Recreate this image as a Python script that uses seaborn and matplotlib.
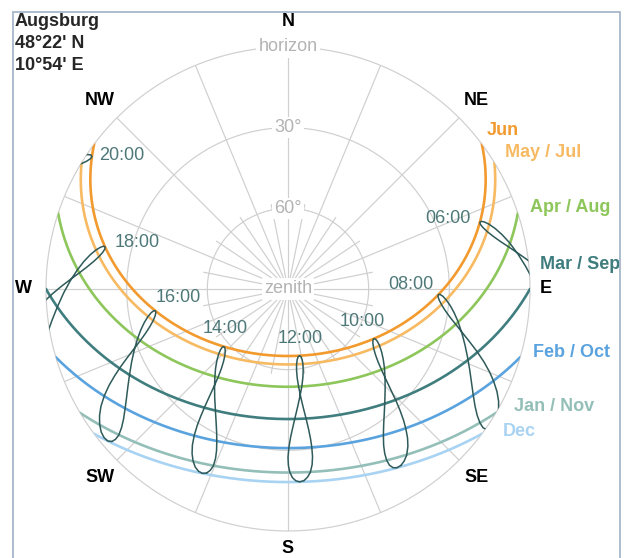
import numpy as np
import pandas as pd
import seaborn as sns
import matplotlib
matplotlib.use('Agg')
import matplotlib.pyplot as plt
from matplotlib.patches import Rectangle

# place
city = "Augsburg"
lat_text = "48°22' N"
lon_text = "10°54' E"
lat_deg = 48 + 22 / 60
lon_deg = 10 + 54 / 60
zone_lon = 15.0  # CET meridian

# monthly sun paths (21st of month)
month_names = ["Jun", "May / Jul", "Apr / Aug", "Mar / Sep", "Feb / Oct", "Jan / Nov", "Dec"]
month_decl = [23.44, 20.3, 12.0, 0.0, -10.8, -19.9, -23.44]
month_colors = ["#F29A2E", "#F7BA63", "#8DC65A", "#3F7D7E", "#5AA3DE", "#94BFB8", "#A9D3F2"]

# analemma hours (clock time)
hours = [6, 8, 10, 12, 14, 16, 18, 20]
hour_names = ["06:00", "08:00", "10:00", "12:00", "14:00", "16:00", "18:00", "20:00"]

# declination (deg) and equation of time (min) on the 1st, 11th, 21st of each month
sun_decl = [-23.0, -21.8, -20.0, -17.2, -14.3, -10.9, -7.8, -4.0, 0.0,
            4.3, 8.1, 11.8, 15.0, 17.8, 20.1, 22.0, 23.1, 23.44,
            23.1, 22.0, 20.4, 18.0, 15.3, 12.2, 8.3, 4.6, 0.8,
            -3.0, -6.8, -10.6, -14.3, -17.3, -19.8, -21.8, -23.0, -23.44]
sun_eot = [-3.3, -7.6, -11.2, -13.5, -14.2, -13.6, -12.4, -10.2, -7.4,
           -4.0, -1.2, 1.2, 2.9, 3.6, 3.4, 2.2, 0.5, -1.6,
           -3.7, -5.4, -6.3, -6.3, -5.3, -3.4, -0.1, 3.3, 6.8,
           10.1, 13.1, 15.3, 16.4, 15.9, 14.1, 11.0, 6.7, 2.0]

compass = ["N", "NE", "E", "SE", "S", "SW", "W", "NW"]

# layout (label radii and pixel offsets)
compass_r = [99.5, 99, 96, 99, 96.5, 99, 98.5, 99]
month_label_offsets = [(5, 14), (11, 10), (12, 6), (10, 24), (13, 5), (18, 6), (21, 2)]
hour_label_offsets = [(-32, 4), (-28, 10), (-12, 17), (1, 17), (1, 18), (23, 13), (32, 4), (30, 1)]


def to_sky(decl, hour_angle):
    phi = np.radians(lat_deg)
    d = np.radians(np.asarray(decl, dtype=float))
    h = np.radians(np.asarray(hour_angle, dtype=float))
    sin_alt = np.sin(phi) * np.sin(d) + np.cos(phi) * np.cos(d) * np.cos(h)
    alt = np.degrees(np.arcsin(np.clip(sin_alt, -1, 1)))
    az = np.arctan2(-np.cos(d) * np.sin(h),
                    np.sin(d) * np.cos(phi) - np.cos(d) * np.cos(h) * np.sin(phi))
    return np.mod(az, 2 * np.pi), 90 - alt


sns.set_theme(style="white")
plt.rcParams['font.family'] = ['Liberation Sans', 'DejaVu Sans']

fig = plt.figure(figsize=(6.28, 5.58), dpi=100)
fig.patch.set_facecolor('white')
ax = fig.add_axes([0.0732, 0.0484, 0.7708, 0.8674], projection='polar')
ax.set_theta_zero_location('N')
ax.set_theta_direction(-1)
ax.grid(False)
ax.spines['polar'].set_visible(False)

grid_c = "#CFCFCF"
full = np.linspace(0, 2 * np.pi, 361)
for rr in (30, 60, 90):
    ax.plot(full, np.full_like(full, rr), color=grid_c, lw=0.85, zorder=1, clip_on=False)
for a in np.arange(0, 360, 22.5):
    ax.plot([np.radians(a)] * 2, [0, 90], color=grid_c, lw=0.85, zorder=1)
for a in np.arange(11.25, 360, 22.5):
    ax.plot([np.radians(a)] * 2, [0, 32], color=grid_c, lw=0.85, zorder=1)

for txt, rr in zip(["horizon", "30°", "60°", "zenith"], [90, 60, 30, 0]):
    ax.text(0, rr, txt, ha='center', va='center', fontsize=13, color="#B3B3B3", zorder=3,
            bbox=dict(fc='white', ec='none', pad=1.5))

# month paths
rows = []
rise = []
for name, dec in zip(month_names, month_decl):
    h0 = np.degrees(np.arccos(-np.tan(np.radians(lat_deg)) * np.tan(np.radians(dec))))
    ha = np.linspace(-h0, h0, 241)
    th, r = to_sky(dec, ha)
    rise.append(th[0])
    rows.append(pd.DataFrame({"theta": th, "r": r, "month": name}))
paths = pd.concat(rows, ignore_index=True)
sns.lineplot(data=paths, x="theta", y="r", hue="month", palette=dict(zip(month_names, month_colors)),
             sort=False, estimator=None, lw=1.9, legend=False, ax=ax, zorder=4)

# analemmas
decl_loop = np.append(sun_decl, sun_decl[0])
eot_loop = np.append(sun_eot, sun_eot[0])
rows = []
june = []
jidx = int(np.argmax(sun_decl))
for t, name in zip(hours, hour_names):
    ha = 15 * (t - 12) + (lon_deg - zone_lon) + eot_loop / 4
    th, r = to_sky(decl_loop, ha)
    june.append((th[jidx], r[jidx]))
    rows.append(pd.DataFrame({"theta": th, "r": r, "hour": name}))
ana = pd.concat(rows, ignore_index=True)
sns.lineplot(data=ana, x="theta", y="r", units="hour", estimator=None, sort=False,
             color="#2F5A5A", lw=1.1, ax=ax, zorder=5)

ax.set_rlim(0, 90)
ax.set_xticks([])
ax.set_yticks([])
ax.set_xlabel('')
ax.set_ylabel('')

for (th, r), name, off in zip(june, hour_names, hour_label_offsets):
    ax.annotate(name, xy=(th, r), xytext=off, textcoords='offset pixels', ha='center', va='center',
                fontsize=13, color="#4E7878", zorder=6, annotation_clip=False)

for th, name, col, off in zip(rise, month_names, month_colors, month_label_offsets):
    ax.annotate(name, xy=(th, 90), xytext=off, textcoords='offset pixels', ha='left', va='center',
                fontsize=13, fontweight='bold', color=col, annotation_clip=False)

for i, (lbl, rr) in enumerate(zip(compass, compass_r)):
    ax.text(np.radians(45 * i), rr, lbl, ha='center', va='center', fontsize=13,
            fontweight='bold', color='black')

for k, line in enumerate([city, lat_text, lon_text]):
    fig.text(15 / 628, 1 - (21 + 22 * k) / 558, line, ha='left', va='center',
             fontsize=13, fontweight='bold')

fig.patches.append(Rectangle((13 / 628, -0.05), (620 - 13) / 628, 1.05 - 12 / 558,
                             transform=fig.transFigure, fill=False, ec="#A7B8CA", lw=1.3))

fig.savefig("out.png", dpi=100)
